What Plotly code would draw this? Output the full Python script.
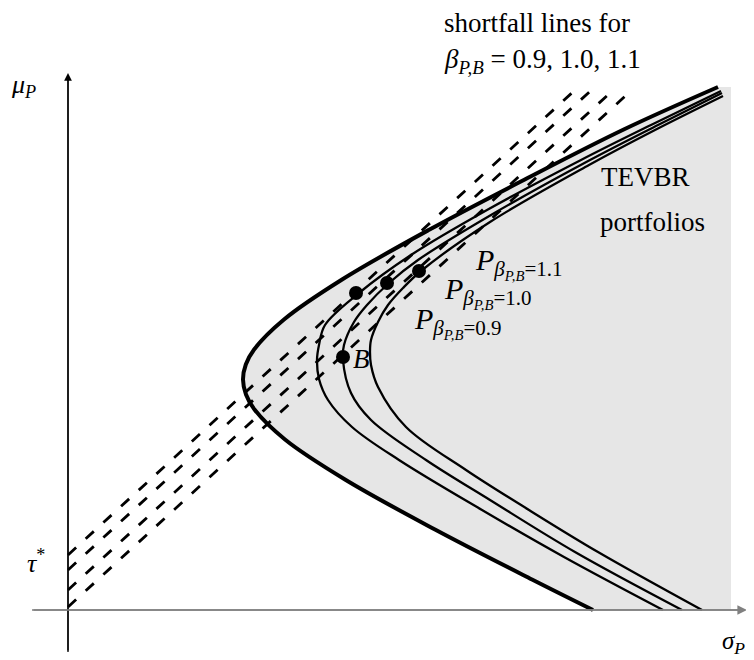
import plotly.graph_objects as go

# ---- data (sigma_P, mu_P) ----
thick_sigma = [525, 464, 367, 277, 217, 186.5, 178, 175, 177.8, 186.1, 216, 274.1, 361.6, 456.8, 555.7, 650]
thick_mu = [0, 30.5, 80.5, 130.5, 170.5, 200.5, 215.5, 230.5, 245.5, 260.5, 290.5, 330.5, 380.5, 430.5, 480.5, 523]

beta09_sigma = [595, 496, 414, 331, 284, 260, 251, 249, 251, 257, 291, 343, 419, 513, 583, 653]
beta09_mu = [0, 53, 100, 150, 183, 210, 231, 250, 265, 285, 317, 355, 400, 450, 485, 519]

beta10_sigma = [614, 507, 422, 358, 303, 283, 275, 276, 286, 299, 321, 350, 423, 522, 590, 654]
beta10_mu = [0, 58, 110, 150, 190, 217, 250, 265, 288, 305, 327, 350, 395, 450, 485, 517]

beta11_sigma = [634, 530, 461, 398, 338, 310, 303, 302, 303, 310, 320, 335, 353, 422, 521, 587, 655]
beta11_mu = [0, 58, 100, 140, 183, 223, 245, 258, 270, 288, 305, 322, 339, 388, 445, 480, 514]

region_right = 663
region_top = 523

shortfall_intercepts = [3, 20, 40, 55]
shortfall_slope = 0.917
shortfall_top = 521

p_sigma = [288, 319, 351]
p_mu = [317, 327, 339]
p_labels = ["0.9", "1.0", "1.1"]
b_sigma = [275]
b_mu = [253]

FONT = "Liberation Serif"

fig = go.Figure()

# shaded TEVBR region
fig.add_trace(go.Scatter(
    x=thick_sigma + [region_right, region_right],
    y=thick_mu + [region_top, 0],
    fill="toself", fillcolor="#e6e6e6", mode="none", hoverinfo="skip"))

# thin constant-beta frontiers
for xs, ys in [(beta09_sigma, beta09_mu), (beta10_sigma, beta10_mu), (beta11_sigma, beta11_mu)]:
    fig.add_trace(go.Scatter(x=xs, y=ys, mode="lines",
                             line=dict(color="black", width=2.3, shape="spline", smoothing=1.0)))

# thick TEV frontier
fig.add_trace(go.Scatter(x=thick_sigma, y=thick_mu, mode="lines",
                         line=dict(color="black", width=4, shape="spline", smoothing=1.0)))

# shortfall lines
for b in shortfall_intercepts:
    fig.add_trace(go.Scatter(x=[0, (shortfall_top - b) / shortfall_slope], y=[b, shortfall_top],
                             mode="lines", line=dict(color="black", width=2.8, dash="11px,13px")))

# points
fig.add_trace(go.Scatter(x=p_sigma, y=p_mu, mode="markers",
                         marker=dict(color="black", size=14)))
fig.add_trace(go.Scatter(x=b_sigma, y=b_mu, mode="markers",
                         marker=dict(color="black", size=14)))

ann = []
# axes arrows
ann.append(dict(x=0, y=537, ax=0, ay=-42, xref="x", yref="y", axref="x", ayref="y",
                showarrow=True, arrowhead=2, arrowsize=1.2, arrowwidth=1.3, arrowcolor="black", text=""))
ann.append(dict(x=679, y=0, ax=-36, ay=0, xref="x", yref="y", axref="x", ayref="y",
                showarrow=True, arrowhead=2, arrowsize=1.2, arrowwidth=1.6, arrowcolor="#808080", text=""))

def txt(x, y, t, size=26, xa="center", ya="middle"):
    ann.append(dict(x=x, y=y, xref="x", yref="y", text=t, showarrow=False,
                    xanchor=xa, yanchor=ya, font=dict(family=FONT, size=size, color="black")))

txt(-45, 524, "<i>μ</i><sub><i>P</i></sub>")
txt(-32, 49, "<i>τ</i><sup>*</sup>")
txt(665, -32, "<i>σ</i><sub><i>P</i></sub>", size=25)
txt(374, 587, "shortfall lines for", size=27, xa="left")
txt(374, 549, "<i>β</i><sub><i>P,B</i></sub> = 0.9, 1.0, 1.1", size=27, xa="left")
txt(577, 433, "TEVBR", size=27)
txt(584, 388, "portfolios", size=27)
txt(293, 251, "<i>B</i>", size=27)
label_pos = [(344, 288), (374, 318), (405, 347)]
for (lx, ly), lab in zip(label_pos, p_labels):
    txt(lx, ly, "<i>P</i><sub><i>β</i><sub><i>P,B</i></sub>=" + lab + "</sub>", size=30, xa="left")

# the page body has an 8px margin; shift the ranges so the drawing lands where the reference has it
fig.update_layout(
    width=754, height=660, margin=dict(l=0, r=0, t=0, b=0, autoexpand=False),
    plot_bgcolor="white", paper_bgcolor="white", showlegend=False,
    xaxis=dict(range=[-60, 694], visible=False, fixedrange=True),
    yaxis=dict(range=[-58, 602], visible=False, fixedrange=True),
    annotations=ann,
    shapes=[
        dict(type="line", xref="x", yref="y", x0=0, y0=-42, x1=0, y1=530,
             line=dict(color="black", width=1.3), layer="below"),
        dict(type="line", xref="x", yref="y", x0=-36, y0=0, x1=672, y1=0,
             line=dict(color="#808080", width=1.6), layer="above"),
    ],
)

fig.write_html("out.html")
